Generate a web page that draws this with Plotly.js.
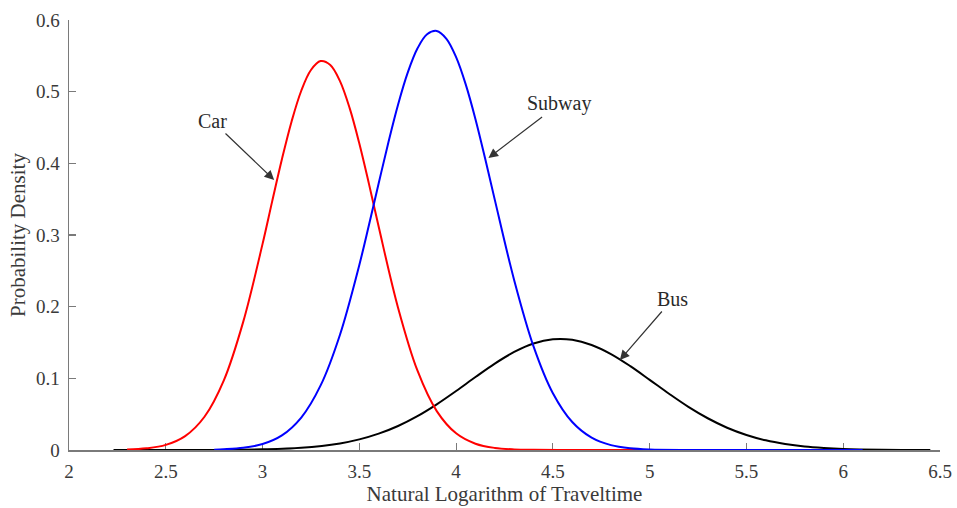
<!DOCTYPE html>
<html>
<head>
<meta charset="utf-8">
<script src="https://cdn.plot.ly/plotly-3.0.1.min.js"></script>
<style>html,body{margin:0;padding:0;background:#fff;}#chart{width:957px;height:508px;}</style>
</head>
<body>
<div id="chart"></div>
<script>
// Values
const carX = [2.3, 2.4, 2.5, 2.6, 2.7, 2.8, 2.9, 3.0, 3.05, 3.1, 3.15, 3.2, 3.25, 3.3, 3.35, 3.4, 3.45, 3.5, 3.55, 3.6, 3.7, 3.8, 3.9, 4.0, 4.1, 4.2, 4.3, 4.4, 4.6, 4.8, 4.95];
const carY = [0.0006, 0.0023, 0.0071, 0.0194, 0.0464, 0.0972, 0.1788, 0.2876, 0.3473, 0.4057, 0.4585, 0.5013, 0.5302, 0.5427, 0.5373, 0.5147, 0.4770, 0.4277, 0.3710, 0.3114, 0.1986, 0.1110, 0.0543, 0.0233, 0.0088, 0.0029, 0.0008, 0.0002, 0, 0, 0];

const subwayX = [2.75, 2.8, 2.9, 3.0, 3.1, 3.2, 3.3, 3.4, 3.5, 3.55, 3.6, 3.65, 3.7, 3.75, 3.8, 3.85, 3.9, 3.95, 4.0, 4.05, 4.1, 4.15, 4.2, 4.3, 4.4, 4.5, 4.6, 4.7, 4.8, 4.9, 5.0, 5.2, 5.5, 6.1];
const subwayY = [0.0005, 0.001, 0.003, 0.0083, 0.0204, 0.0453, 0.0901, 0.1609, 0.2583, 0.3143, 0.3722, 0.4292, 0.4818, 0.5265, 0.5601, 0.5800, 0.5847, 0.5738, 0.5481, 0.5098, 0.4616, 0.4067, 0.3490, 0.2370, 0.1446, 0.0792, 0.0390, 0.0172, 0.0068, 0.0024, 0.0008, 0.0001, 0, 0];

const busX = [2.23, 2.5, 2.75, 3.0, 3.2, 3.4, 3.5, 3.6, 3.7, 3.8, 3.9, 4.0, 4.1, 4.2, 4.3, 4.4, 4.5, 4.6, 4.7, 4.8, 4.9, 5.0, 5.1, 5.2, 5.3, 5.4, 5.5, 5.6, 5.7, 5.8, 5.9, 6.0, 6.2, 6.45];
const busY = [0, 0.00002, 0.0001, 0.0009, 0.0031, 0.0092, 0.0148, 0.0228, 0.0335, 0.0472, 0.0637, 0.0823, 0.1018, 0.1206, 0.1368, 0.1486, 0.1545, 0.1538, 0.1466, 0.1339, 0.1170, 0.0979, 0.0785, 0.0602, 0.0443, 0.0311, 0.0210, 0.0135, 0.0084, 0.0049, 0.0028, 0.0015, 0.0004, 0.0001];

const xTicks = [2, 2.5, 3, 3.5, 4, 4.5, 5, 5.5, 6, 6.5];
const xTickText = ["2", "2.5", "3", "3.5", "4", "4.5", "5", "5.5", "6", "6.5"];
const yTicks = [0, 0.1, 0.2, 0.3, 0.4, 0.5, 0.6];
const yTickText = ["0", "0.1", "0.2", "0.3", "0.4", "0.5", "0.6"];

const labels = [
  {text: "Car", tipX: 3.060, tipY: 0.3767, textX: 2.741, textY: 0.459},
  {text: "Subway", tipX: 4.167, tipY: 0.4074, textX: 4.532, textY: 0.4828},
  {text: "Bus", tipX: 4.846, tipY: 0.1256, textX: 5.119, textY: 0.2107}
];

const serif = "Liberation Serif, Times New Roman, serif";
const axisGray = "#7a7a7a";
const textGray = "#3a3a3a";

const traces = [
  {x: busX, y: busY, mode: "lines", line: {color: "#000000", width: 2, shape: "spline", smoothing: 1}, name: "Bus"},
  {x: carX, y: carY, mode: "lines", line: {color: "#ff0000", width: 2, shape: "spline", smoothing: 1}, name: "Car"},
  {x: subwayX, y: subwayY, mode: "lines", line: {color: "#0000ff", width: 2, shape: "spline", smoothing: 1}, name: "Subway"}
];

const layout = {
  width: 957, height: 508,
  margin: {l: 69, r: 17, t: 20, b: 58},
  paper_bgcolor: "#ffffff", plot_bgcolor: "#ffffff",
  showlegend: false,
  font: {family: serif, color: textGray, size: 19},
  xaxis: {
    range: [2, 6.5], tickmode: "array", tickvals: xTicks, ticktext: xTickText,
    ticks: "inside", ticklen: 7, tickwidth: 1.2, tickcolor: axisGray,
    showline: true, linecolor: axisGray, linewidth: 1.5, showgrid: false, zeroline: false,
    layer: "below traces",
    tickfont: {family: serif, size: 19, color: textGray},
    ticklabelstandoff: 4,
    title: {text: "Natural Logarithm of Traveltime", font: {family: serif, size: 21, color: textGray}, standoff: 2}
  },
  yaxis: {
    range: [0, 0.6], tickmode: "array", tickvals: yTicks, ticktext: yTickText,
    ticks: "inside", ticklen: 7, tickwidth: 1.2, tickcolor: axisGray,
    showline: true, linecolor: axisGray, linewidth: 1.5, showgrid: false, zeroline: false,
    layer: "below traces",
    tickfont: {family: serif, size: 19, color: textGray},
    ticklabelstandoff: 4,
    title: {text: "Probability Density", font: {family: serif, size: 21, color: textGray}, standoff: 4}
  },
  annotations: labels.map(l => ({
    x: l.tipX, y: l.tipY, xref: "x", yref: "y",
    ax: l.textX, ay: l.textY, axref: "x", ayref: "y",
    text: l.text, showarrow: true,
    arrowhead: 2, arrowsize: 1.6, arrowwidth: 1.2, arrowcolor: "#333333",
    standoff: 0, startstandoff: 0,
    font: {family: serif, size: 20, color: "#2a2a2a"}
  }))
};

Plotly.newPlot("chart", traces, layout, {displayModeBar: false, staticPlot: true});
</script>
</body>
</html>
